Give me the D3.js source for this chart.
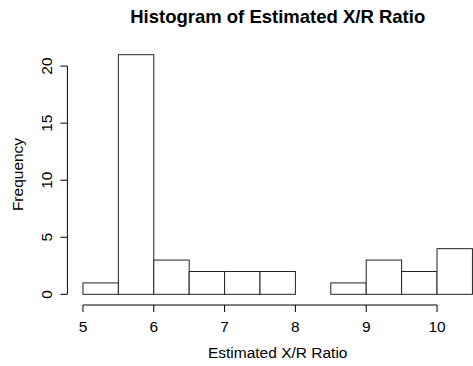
<!DOCTYPE html>
<html>
<head>
<meta charset="utf-8">
<script src="https://cdn.jsdelivr.net/npm/d3@7"></script>
<style>
  html, body { margin: 0; padding: 0; background: #fff; }
  svg { display: block; font-family: "Liberation Sans", Arial, Helvetica, sans-serif; }
</style>
</head>
<body>
<svg id="chart" width="473" height="366"></svg>
<script>
// Histogram bins (left edge, right edge) and counts
const binStarts = [5, 5.5, 6, 6.5, 7, 7.5, 8, 8.5, 9, 9.5, 10];
const binEnds   = [5.5, 6, 6.5, 7, 7.5, 8, 8.5, 9, 9.5, 10, 10.5];
const counts    = [1, 21, 3, 2, 2, 2, 0, 1, 3, 2, 4];
const xTicks = [5, 6, 7, 8, 9, 10];
const yTicks = [0, 5, 10, 15, 20];

const svg = d3.select("#chart");
const labelSize = 15.5;

// R-style 4% padding around the data range
const xMin = 5, xMax = 10.5, yMax = 21;
const xPad = (xMax - xMin) * 0.04, yPad = yMax * 0.04;
const x = d3.scaleLinear().domain([xMin - xPad, xMax + xPad]).range([67.4, 488]);
const y = d3.scaleLinear().domain([-yPad, yMax + yPad]).range([303.9, 45.1]);

// Bars
svg.append("g")
  .selectAll("rect")
  .data(counts)
  .join("rect")
  .attr("x", (d, i) => x(binStarts[i]))
  .attr("y", d => y(d))
  .attr("width", (d, i) => x(binEnds[i]) - x(binStarts[i]))
  .attr("height", d => y(0) - y(d))
  .attr("fill", "#fff")
  .attr("stroke", "#222")
  .attr("stroke-width", 1);

// X axis
const xAxis = svg.append("g").attr("transform", `translate(0,${305})`);
xAxis.append("line")
  .attr("x1", x(xTicks[0])).attr("x2", x(xTicks[xTicks.length - 1]))
  .attr("y1", 0).attr("y2", 0).attr("stroke", "#000");
xAxis.selectAll(".tk").data(xTicks).join("line")
  .attr("x1", d => x(d)).attr("x2", d => x(d))
  .attr("y1", 0).attr("y2", 7).attr("stroke", "#000");
xAxis.selectAll("text").data(xTicks).join("text")
  .attr("x", d => x(d)).attr("y", 26.7)
  .attr("text-anchor", "middle").attr("font-size", labelSize)
  .text(d => d);

// Y axis
const yAxis = svg.append("g").attr("transform", `translate(${67.4},0)`);
yAxis.append("line")
  .attr("x1", 0).attr("x2", 0)
  .attr("y1", y(yTicks[0])).attr("y2", y(yTicks[yTicks.length - 1])).attr("stroke", "#000");
yAxis.selectAll(".tk").data(yTicks).join("line")
  .attr("x1", 0).attr("x2", -7)
  .attr("y1", d => y(d)).attr("y2", d => y(d)).attr("stroke", "#000");
yAxis.selectAll("text").data(yTicks).join("text")
  .attr("transform", d => `translate(-15.8,${y(d)}) rotate(-90)`)
  .attr("text-anchor", "middle").attr("font-size", labelSize)
  .text(d => d);

// Axis titles
svg.append("text")
  .attr("x", (x.range()[0] + x.range()[1]) / 2).attr("y", 358.3)
  .attr("text-anchor", "middle").attr("font-size", labelSize)
  .text("Estimated X/R Ratio");
svg.append("text")
  .attr("transform", `translate(23,${(y.range()[0] + y.range()[1]) / 2}) rotate(-90)`)
  .attr("text-anchor", "middle").attr("font-size", labelSize)
  .text("Frequency");

// Title
svg.append("text")
  .attr("x", (x.range()[0] + x.range()[1]) / 2).attr("y", 22.7)
  .attr("text-anchor", "middle").attr("font-size", 18.5).attr("font-weight", "bold")
  .text("Histogram of Estimated X/R Ratio");
</script>
</body>
</html>
